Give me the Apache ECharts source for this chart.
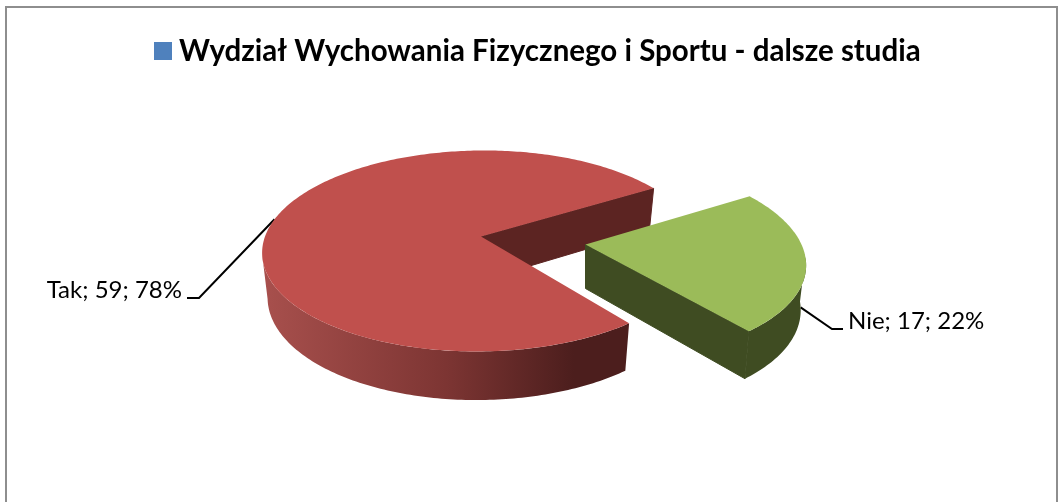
<!DOCTYPE html>
<html>
<head>
<meta charset="utf-8">
<style>
  html, body { margin: 0; padding: 0; background: #fff; overflow: hidden; }
  #chart { width: 1058px; height: 502px; }
</style>
<script src="https://cdn.jsdelivr.net/npm/echarts@6/dist/echarts.min.js"></script>
</head>
<body>
<div id="chart"></div>
<script>
const chartTitle = 'Wydział Wychowania Fizycznego i Sportu - dalsze studia'
const categories = ['Tak', 'Nie']
const values = [59, 17]
const percentLabels = ['78%', '22%']

const topColors = ['#c0504d', '#9bbb59']
const cutColors = ['#5c2422', '#3f4c22']
const rimColors = [['#a8504d', '#7d3533', '#4c1e1d'], ['#3f4c22', '#3f4c22', '#3f4c22']]

// where each slice's tip sits, the pie is tilted so these are picked by eye
const apex = [[481, 236.5], [585.5, 244.5]]
// perspective lean: slices off to the side get sheared a little
const lean = [-0.04, 0.135]
const labelAt = [[182, 298], [848, 329]]
const elbowAt = [[[199, 298], [187, 298]], [[832, 329], [843, 329]]]

const startAngle = 29
const radius = 216
const squash = 98.4
const persp = 0.144
const depth = 44
const total = values.reduce((a, b) => a + b, 0)
const rad = (d) => (d * Math.PI) / 180

// disc point -> screen, lower=true gives the underside of the slab
function project(i, deg, lower) {
  // small angular skew, the 3d view opens the wedge a bit wider than its true angle
  const t = rad(deg + 1.5 * (1 + Math.sin(rad(2 * deg))))
  const s = Math.sin(t)
  const p = 1 / (1 + persp * s)
  const xs = lower ? 0.975 : 1
  const ys = lower ? 1.04 : 1
  return [
    apex[i][0] + radius * Math.cos(t) * p * xs + lean[i] * squash * s * p * -1,
    apex[i][1] - squash * s * p * ys + (lower ? depth : 0)
  ]
}

function arc(i, from, to, lower) {
  const n = Math.max(1, Math.ceil(Math.abs(to - from)))
  const pts = []
  for (let k = 0; k <= n; k++) pts.push(project(i, from + ((to - from) * k) / n, lower))
  return pts
}

function sliceRange(idx) {
  let from = startAngle
  for (let i = 0; i < idx; i++) from += (values[i] / total) * 360
  return [from, from + (values[idx] / total) * 360]
}

function renderSlice(params, api) {
  const i = params.dataIndex
  const v = api.value(0)
  const tip = apex[i]
  const [from, to] = sliceRange(i)
  const kids = []
  const tipLow = [tip[0], tip[1] + depth]

  // leader goes first so the slab hides its end
  const mid = (from + to) / 2
  const front = Math.sin(rad(mid)) < 0
  kids.push({
    type: 'polyline',
    shape: { points: [project(i, mid, front)].concat(elbowAt[i]) },
    style: { stroke: '#000', lineWidth: 2, fill: null }
  })

  // cut faces, only those turned toward the viewer
  if (Math.cos(rad(from)) > 0) {
    kids.push({
      type: 'polygon',
      shape: { points: [tip, project(i, from), project(i, from, true), tipLow] },
      style: { fill: cutColors[i], stroke: cutColors[i], lineWidth: 1 }
    })
  }
  if (Math.cos(rad(to)) < 0) {
    kids.push({
      type: 'polygon',
      shape: { points: [tip, project(i, to), project(i, to, true), tipLow] },
      style: { fill: cutColors[i], stroke: cutColors[i], lineWidth: 1 }
    })
  }

  // outer rim between the two silhouette angles
  const silL = 180 + (Math.asin(persp) * 180) / Math.PI
  const silR = 360 - (Math.asin(persp) * 180) / Math.PI
  const a = Math.max(from, silL)
  const b = Math.min(to, silR)
  if (b > a) {
    kids.push({
      type: 'polygon',
      shape: { points: arc(i, a, b).concat(arc(i, b, a, true)) },
      style: {
        fill: new echarts.graphic.LinearGradient(0, 0, 1, 0, [
          { offset: 0, color: rimColors[i][0] },
          { offset: 0.5, color: rimColors[i][1] },
          { offset: 0.85, color: rimColors[i][2] },
          { offset: 1, color: rimColors[i][2] }
        ])
      }
    })
  }

  // top face
  kids.push({
    type: 'polygon',
    shape: { points: [tip].concat(arc(i, from, to)) },
    style: { fill: topColors[i] }
  })

  kids.push({
    type: 'text',
    x: labelAt[i][0],
    y: labelAt[i][1] + 4,
    style: {
      text: categories[i] + '; ' + v + '; ' + percentLabels[i],
      font: '24px Lato',
      fill: '#000',
      align: i === 0 ? 'right' : 'left',
      verticalAlign: 'bottom'
    }
  })
  return { type: 'group', children: kids }
}

const chart = echarts.init(document.getElementById('chart'))
chart.setOption({
  animation: false,
  backgroundColor: '#fff',
  legend: {
    left: 149,
    top: 31,
    icon: 'rect',
    itemWidth: 18,
    itemHeight: 18,
    selectedMode: false,
    data: [chartTitle],
    textStyle: { fontFamily: 'Lato', fontWeight: 'bold', fontSize: 29.5, color: '#000', padding: [0, 0, 0, 2] }
  },
  graphic: [
    {
      type: 'rect',
      silent: true,
      z: -1,
      shape: { x: 6, y: 7, width: 1051, height: 600 },
      style: { fill: null, stroke: '#8e8e8e', lineWidth: 2 }
    }
  ],
  series: [
    {
      name: chartTitle,
      type: 'custom',
      coordinateSystem: 'none',
      itemStyle: { color: '#4f81bd' },
      renderItem: renderSlice,
      data: values.map((v) => [v])
    }
  ]
})
</script>
</body>
</html>
